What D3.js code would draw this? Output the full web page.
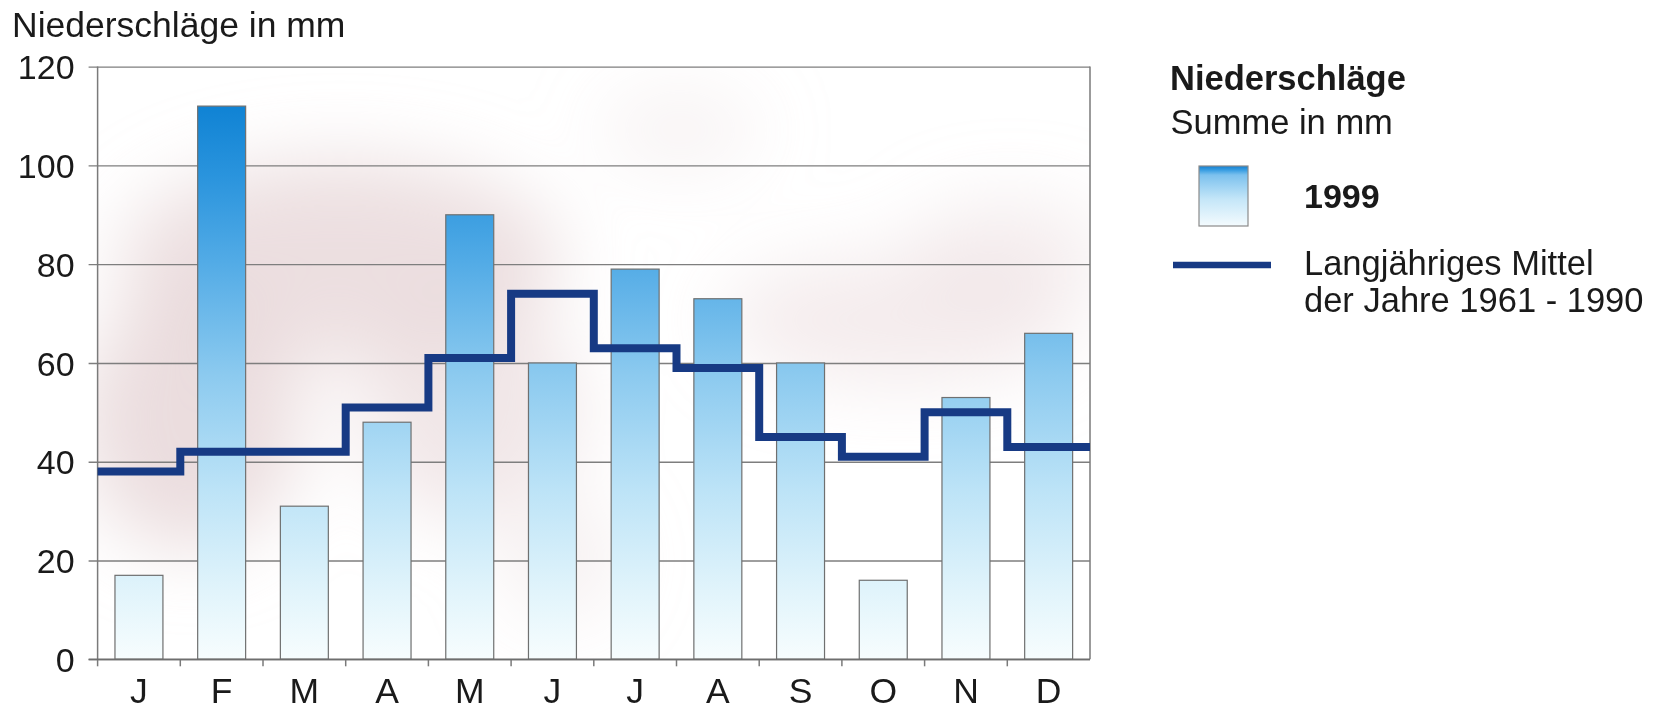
<!DOCTYPE html>
<html>
<head>
<meta charset="utf-8">
<script src="https://cdn.jsdelivr.net/npm/d3@7"></script>
<style>
  html, body { margin: 0; padding: 0; background: #ffffff; }
  svg { display: block; }
  text { font-family: "Liberation Sans", Arial, Helvetica, sans-serif; fill: #1a1a1a; }
</style>
</head>
<body>
<svg id="chart" width="1664" height="711"></svg>
<script>
// ---- data ----
const months = ["J", "F", "M", "A", "M", "J", "J", "A", "S", "O", "N", "D"];
const precip1999 = [17, 112, 31, 48, 90, 60, 79, 73, 60, 16, 53, 66];
const meanPrecip = [38, 42, 42, 51, 61, 74, 63, 59, 45, 41, 50, 43];
const yTicks = [0, 20, 40, 60, 80, 100, 120];
const yAxisTitle = "Niederschläge in mm";
const legendTitle = "Niederschläge";
const legendSubtitle = "Summe in mm";
const legendBarLabel = "1999";
const legendLineLabel = ["Langjähriges Mittel", "der Jahre 1961 - 1990"];

// ---- layout ----
const svg = d3.select("#chart");
const plot = { left: 97.6, right: 1090, top: 66.6, bottom: 659.3 };
const plotW = plot.right - plot.left;
const idx = d3.range(months.length);

const x = d3.scaleBand().domain(idx).range([plot.left, plot.right]).padding(0);
const y = d3.scaleLinear().domain([0, 120]).range([plot.bottom, plot.top]);

const defs = svg.append("defs");

// bar gradient in user space (colour depends on absolute height)
const g1 = defs.append("linearGradient").attr("id", "barGrad")
  .attr("gradientUnits", "userSpaceOnUse")
  .attr("x1", 0).attr("x2", 0).attr("y1", y(0)).attr("y2", y(115));
[[0, "#f7fdfe"], [0.12, "#e1f4fb"], [0.3, "#bce3f7"], [0.5, "#8ccaef"], [0.7, "#52abe6"], [0.85, "#2a94dd"], [1, "#0a7fd2"]]
  .forEach(([o, c]) => g1.append("stop").attr("offset", o).attr("stop-color", c));

const g2 = defs.append("linearGradient").attr("id", "legGrad")
  .attr("x1", 0).attr("x2", 0).attr("y1", 1).attr("y2", 0);
[[0, "#f4fbfe"], [0.45, "#c4e6f8"], [0.85, "#7cc1ee"], [0.93, "#3a9ee2"], [1, "#137fd0"]]
  .forEach(([o, c]) => g2.append("stop").attr("offset", o).attr("stop-color", c));

defs.append("filter").attr("id", "blur").attr("x", "-50%").attr("y", "-50%").attr("width", "200%").attr("height", "200%")
  .append("feGaussianBlur").attr("stdDeviation", 38);
defs.append("clipPath").attr("id", "plotClip").append("rect")
  .attr("x", plot.left).attr("y", plot.top).attr("width", plotW).attr("height", plot.bottom - plot.top);

// soft pinkish background clouds
const clouds = svg.append("g").attr("clip-path", "url(#plotClip)").attr("filter", "url(#blur)");
const blobs = [
  [340, 260, 220, 100, 0.75], [190, 420, 110, 130, 0.8], [470, 410, 110, 110, 0.55],
  [900, 320, 180, 65, 0.45], [1010, 250, 100, 50, 0.4], [680, 130, 80, 40, 0.3], [560, 560, 60, 60, 0.35]
];
blobs.forEach(([cx, cy, rx, ry, op]) => clouds.append("ellipse")
  .attr("cx", cx).attr("cy", cy).attr("rx", rx).attr("ry", ry)
  .attr("fill", "#e6d4d6").attr("opacity", op));

// gridlines + y labels
const yAxis = svg.append("g")
  .attr("transform", `translate(${plot.left - 9},0)`)
  .call(d3.axisLeft(y).tickValues(yTicks).tickSize(-(plotW + 9)).tickPadding(14));
yAxis.select(".domain").remove();
yAxis.selectAll(".tick line").attr("stroke", "#7e7e7e").attr("stroke-width", 1.4);
yAxis.selectAll(".tick text")
  .style("font-family", '"Liberation Sans", Arial, sans-serif')
  .attr("font-size", 34).attr("fill", "#1a1a1a").attr("dy", "0.36em");

// bars
const barW = x.bandwidth() * 0.58;
svg.append("g").selectAll("rect").data(idx).join("rect")
  .attr("x", i => x(i) + (x.bandwidth() - barW) / 2)
  .attr("y", i => y(precip1999[i]))
  .attr("width", barW)
  .attr("height", i => y(0) - y(precip1999[i]))
  .attr("fill", "url(#barGrad)")
  .attr("stroke", "#6f7070").attr("stroke-width", 1.2);

// frame
const frame = svg.append("g").attr("fill", "none").attr("stroke", "#7a7a7a").attr("stroke-width", 1.5);
frame.append("line").attr("x1", plot.left).attr("x2", plot.left).attr("y1", y(0)).attr("y2", y(120));
frame.append("line").attr("x1", plot.right).attr("x2", plot.right).attr("y1", y(0)).attr("y2", y(120));

// x axis: boundary ticks and month labels
const xAxis = svg.append("g").attr("transform", `translate(0,${y(0)})`)
  .call(d3.axisBottom(x).tickSize(0).tickPadding(0).tickFormat(i => months[i]));
xAxis.select(".domain").remove();
xAxis.selectAll(".tick text")
  .style("font-family", '"Liberation Sans", Arial, sans-serif')
  .attr("font-size", 35.5).attr("fill", "#1a1a1a").attr("y", 44).attr("dy", null);
svg.append("g").selectAll("line").data(idx).join("line")
  .attr("x1", i => x(i)).attr("x2", i => x(i))
  .attr("y1", y(0)).attr("y2", y(0) + 7)
  .attr("stroke", "#7a7a7a").attr("stroke-width", 1.5);
svg.append("line").attr("x1", plot.left - 9).attr("x2", plot.right)
  .attr("y1", y(0)).attr("y2", y(0)).attr("stroke", "#6e6e6e").attr("stroke-width", 1.6);

// long-term mean as step line
const stepPts = idx.map(i => [x(i), meanPrecip[i]]).concat([[plot.right, meanPrecip[meanPrecip.length - 1]]]);
svg.append("path")
  .datum(stepPts)
  .attr("d", d3.line().x(d => d[0]).y(d => y(d[1])).curve(d3.curveStepAfter))
  .attr("fill", "none").attr("stroke", "#173a84").attr("stroke-width", 8)
  .attr("stroke-linejoin", "miter").attr("stroke-linecap", "butt");

// y axis title
svg.append("text").attr("x", 12).attr("y", 37).attr("font-size", 35.5).text(yAxisTitle);

// legend
const leg = svg.append("g");
leg.append("text").attr("x", 1170).attr("y", 90).attr("font-size", 34.5).attr("font-weight", "bold").text(legendTitle);
leg.append("text").attr("x", 1170.5).attr("y", 134).attr("font-size", 34.5).text(legendSubtitle);
leg.append("rect").attr("x", 1199).attr("y", 166).attr("width", 49).attr("height", 60)
  .attr("fill", "url(#legGrad)").attr("stroke", "#8a8a8a").attr("stroke-width", 1.2);
leg.append("text").attr("x", 1304).attr("y", 208).attr("font-size", 34).attr("font-weight", "bold").text(legendBarLabel);
leg.append("line").attr("x1", 1173).attr("x2", 1271).attr("y1", 265).attr("y2", 265)
  .attr("stroke", "#173a84").attr("stroke-width", 6.5);
leg.append("text").attr("x", 1304).attr("y", 275).attr("font-size", 34.5).text(legendLineLabel[0]);
leg.append("text").attr("x", 1304).attr("y", 312).attr("font-size", 34.5).text(legendLineLabel[1]);
</script>
</body>
</html>
